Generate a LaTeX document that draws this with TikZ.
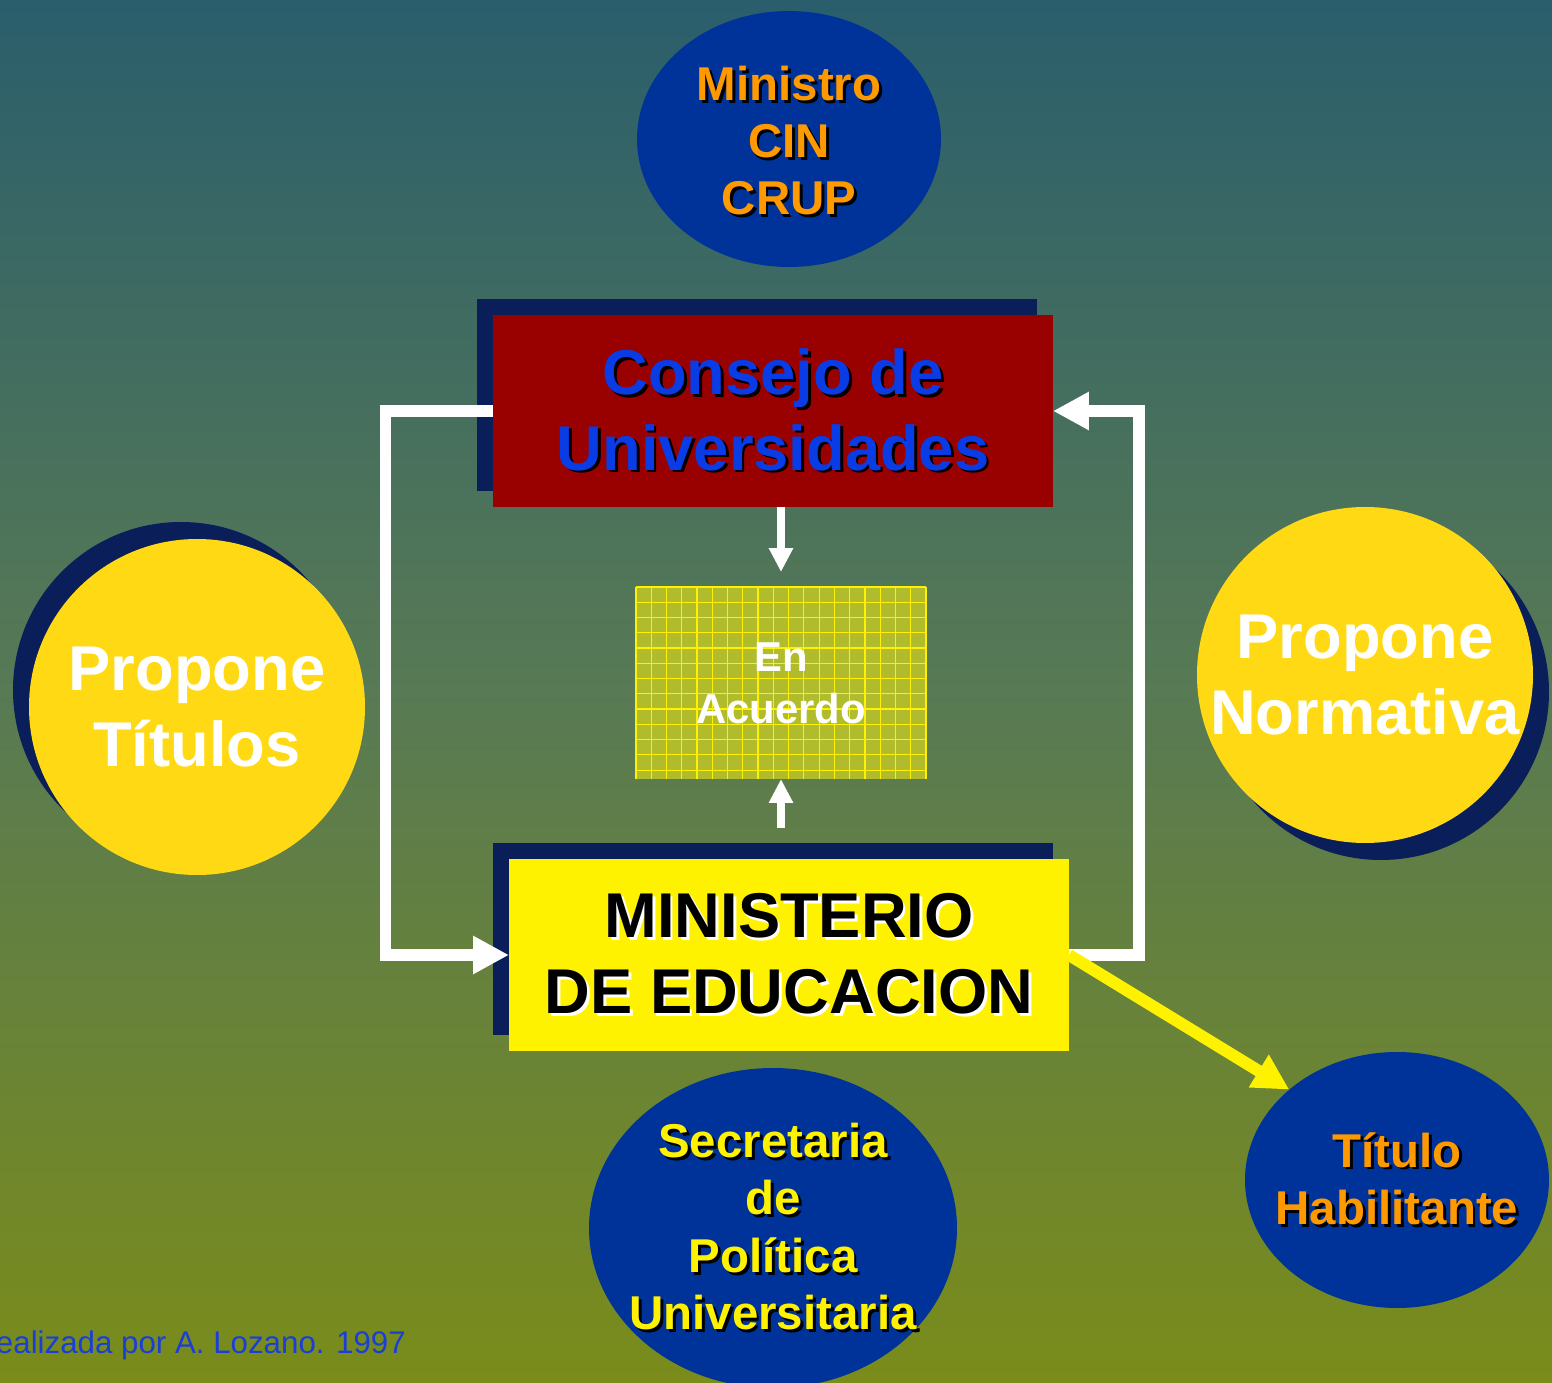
\documentclass[tikz,border=0pt]{standalone}
\usepackage{fontspec}
\setmainfont{Liberation Sans}
\usetikzlibrary{shapes.geometric, arrows.meta, shadows}

\definecolor{bgtop}{RGB}{42,94,108}
\definecolor{bgmid}{RGB}{88,122,84}
\definecolor{bgbot}{RGB}{122,140,26}
\definecolor{navysh}{RGB}{10,30,90}
\definecolor{ovalblue}{RGB}{0,51,153}
\definecolor{orangetxt}{RGB}{255,153,0}
\definecolor{sunyellow}{RGB}{255,217,20}
\definecolor{consred}{RGB}{153,0,0}
\definecolor{consblue}{RGB}{10,60,230}
\definecolor{accfill}{RGB}{176,188,44}
\definecolor{credblue}{RGB}{26,63,214}

\pgfdeclareverticalshading{bgshade}{100bp}{color(0bp)=(bgbot); color(25bp)=(bgbot);
  color(50bp)=(bgmid); color(75bp)=(bgtop); color(100bp)=(bgtop)}

% text with a small shadow behind it
\newcommand{\shtxt}[2]{\leavevmode\rlap{\kern0.8pt\raisebox{-0.8pt}{\color{#1}#2}}#2}

\begin{document}
\begin{tikzpicture}
\tikzset{ >=Triangle, inner sep=0pt, outer sep=0pt,
  box/.style={rectangle, minimum width=5.6cm, minimum height=1.92cm, align=center,
    font=\bfseries\fontsize{18}{21.6}\selectfont,
    drop shadow={shadow xshift=-0.16cm, shadow yshift=0.16cm, fill=navysh, opacity=1}},
  oval/.style={ellipse, fill=ovalblue},
  ovaltext/.style={align=center, font=\bfseries\fontsize{13.5}{16.3}\selectfont},
  sun/.style={circle, fill=sunyellow, minimum size=3.36cm},
  suntext/.style={align=center, text=white, font=\bfseries\fontsize{18}{21.6}\selectfont},
  bigarrow/.style={line width=3.4pt, -{Triangle[length=10.2pt,width=10.2pt]}},
  smallarrow/.style={white, line width=2pt, -{Triangle[length=6.8pt,width=6.5pt]}},
}

\useasboundingbox (0,0) rectangle (15.52,-13.83);
\shade [shading=bgshade] (0,0) rectangle (15.52,-13.83);

\node [oval, minimum width=3.04cm, minimum height=2.56cm,
  label={[ovaltext, text=orangetxt, yshift=-0.03cm]center:{\shtxt{black}{Ministro}\\\shtxt{black}{CIN}\\\shtxt{black}{CRUP}}}] (CIN) at (7.89,-1.39) {};

\node [box, fill=consred, text=consblue] (CU) at (7.73,-4.11)
  {\shtxt{black}{Consejo de}\\\shtxt{black}{Universidades}};

\node [rectangle, fill=accfill, minimum width=2.9cm, minimum height=1.92cm] (EA) at (7.81,-6.83) {};
\begin{scope}[shift={(EA.north west)}]
  \draw [yellow, line width=0.35pt] (0,0) grid [step=0.1526] (2.9,-1.92);
\end{scope}
\node [align=center, text=white, font=\bfseries\fontsize{11.9}{14.8}\selectfont] (EAtxt) at (EA.center) {En\\Acuerdo};

\node [box, fill=yellow, text=black] (ME) at (7.89,-9.55)
  {\shtxt{white}{MINISTERIO}\\\shtxt{white}{DE EDUCACION}};

\node [sun, drop shadow={shadow xshift=-0.16cm, shadow yshift=0.17cm, fill=navysh, opacity=1},
  label={[suntext]center:{Propone\\Títulos}}] (PT) at (1.97,-7.07) {};
\node [sun, drop shadow={shadow xshift=0.16cm, shadow yshift=-0.17cm, fill=navysh, opacity=1},
  label={[suntext]center:{Propone\\Normativa}}] (PN) at (13.65,-6.75) {};

\node [oval, minimum width=3.68cm, minimum height=3.2cm,
  label={[ovaltext, text=yellow]center:{\shtxt{black}{Secretaria}\\\shtxt{black}{de}\\\shtxt{black}{Política}\\\shtxt{black}{Universitaria}}}] (SPU) at (7.73,-12.28) {};

\node [oval, minimum width=3.04cm, minimum height=2.56cm,
  label={[ovaltext, text=orangetxt]center:{\shtxt{black}{Título}\\\shtxt{black}{Habilitante}}}] (TH) at (13.97,-11.80) {};

\node [anchor=base west, text=credblue, font=\fontsize{8.9}{10.5}\selectfont] (credit) at (-0.04,-13.53)
  {ealizada por A. Lozano. 1997};

\coordinate (Lrail) at (3.855,-7);
\coordinate (Rrail) at (11.39,-7);

\draw [bigarrow, white] (CU.west) -| (Lrail) |- (ME.west);
\draw [bigarrow, white] (ME.east) -| (Rrail) |- (CU.east);
\draw [smallarrow, shorten >=0.15cm] (EA.north |- CU.south) -- (EA.north);
\draw [smallarrow, shorten <=0.31cm] (EA.south |- ME.north) -- (EA.south);
\draw [bigarrow, yellow] (ME.east) -- (TH.140);
\end{tikzpicture}
\end{document}
